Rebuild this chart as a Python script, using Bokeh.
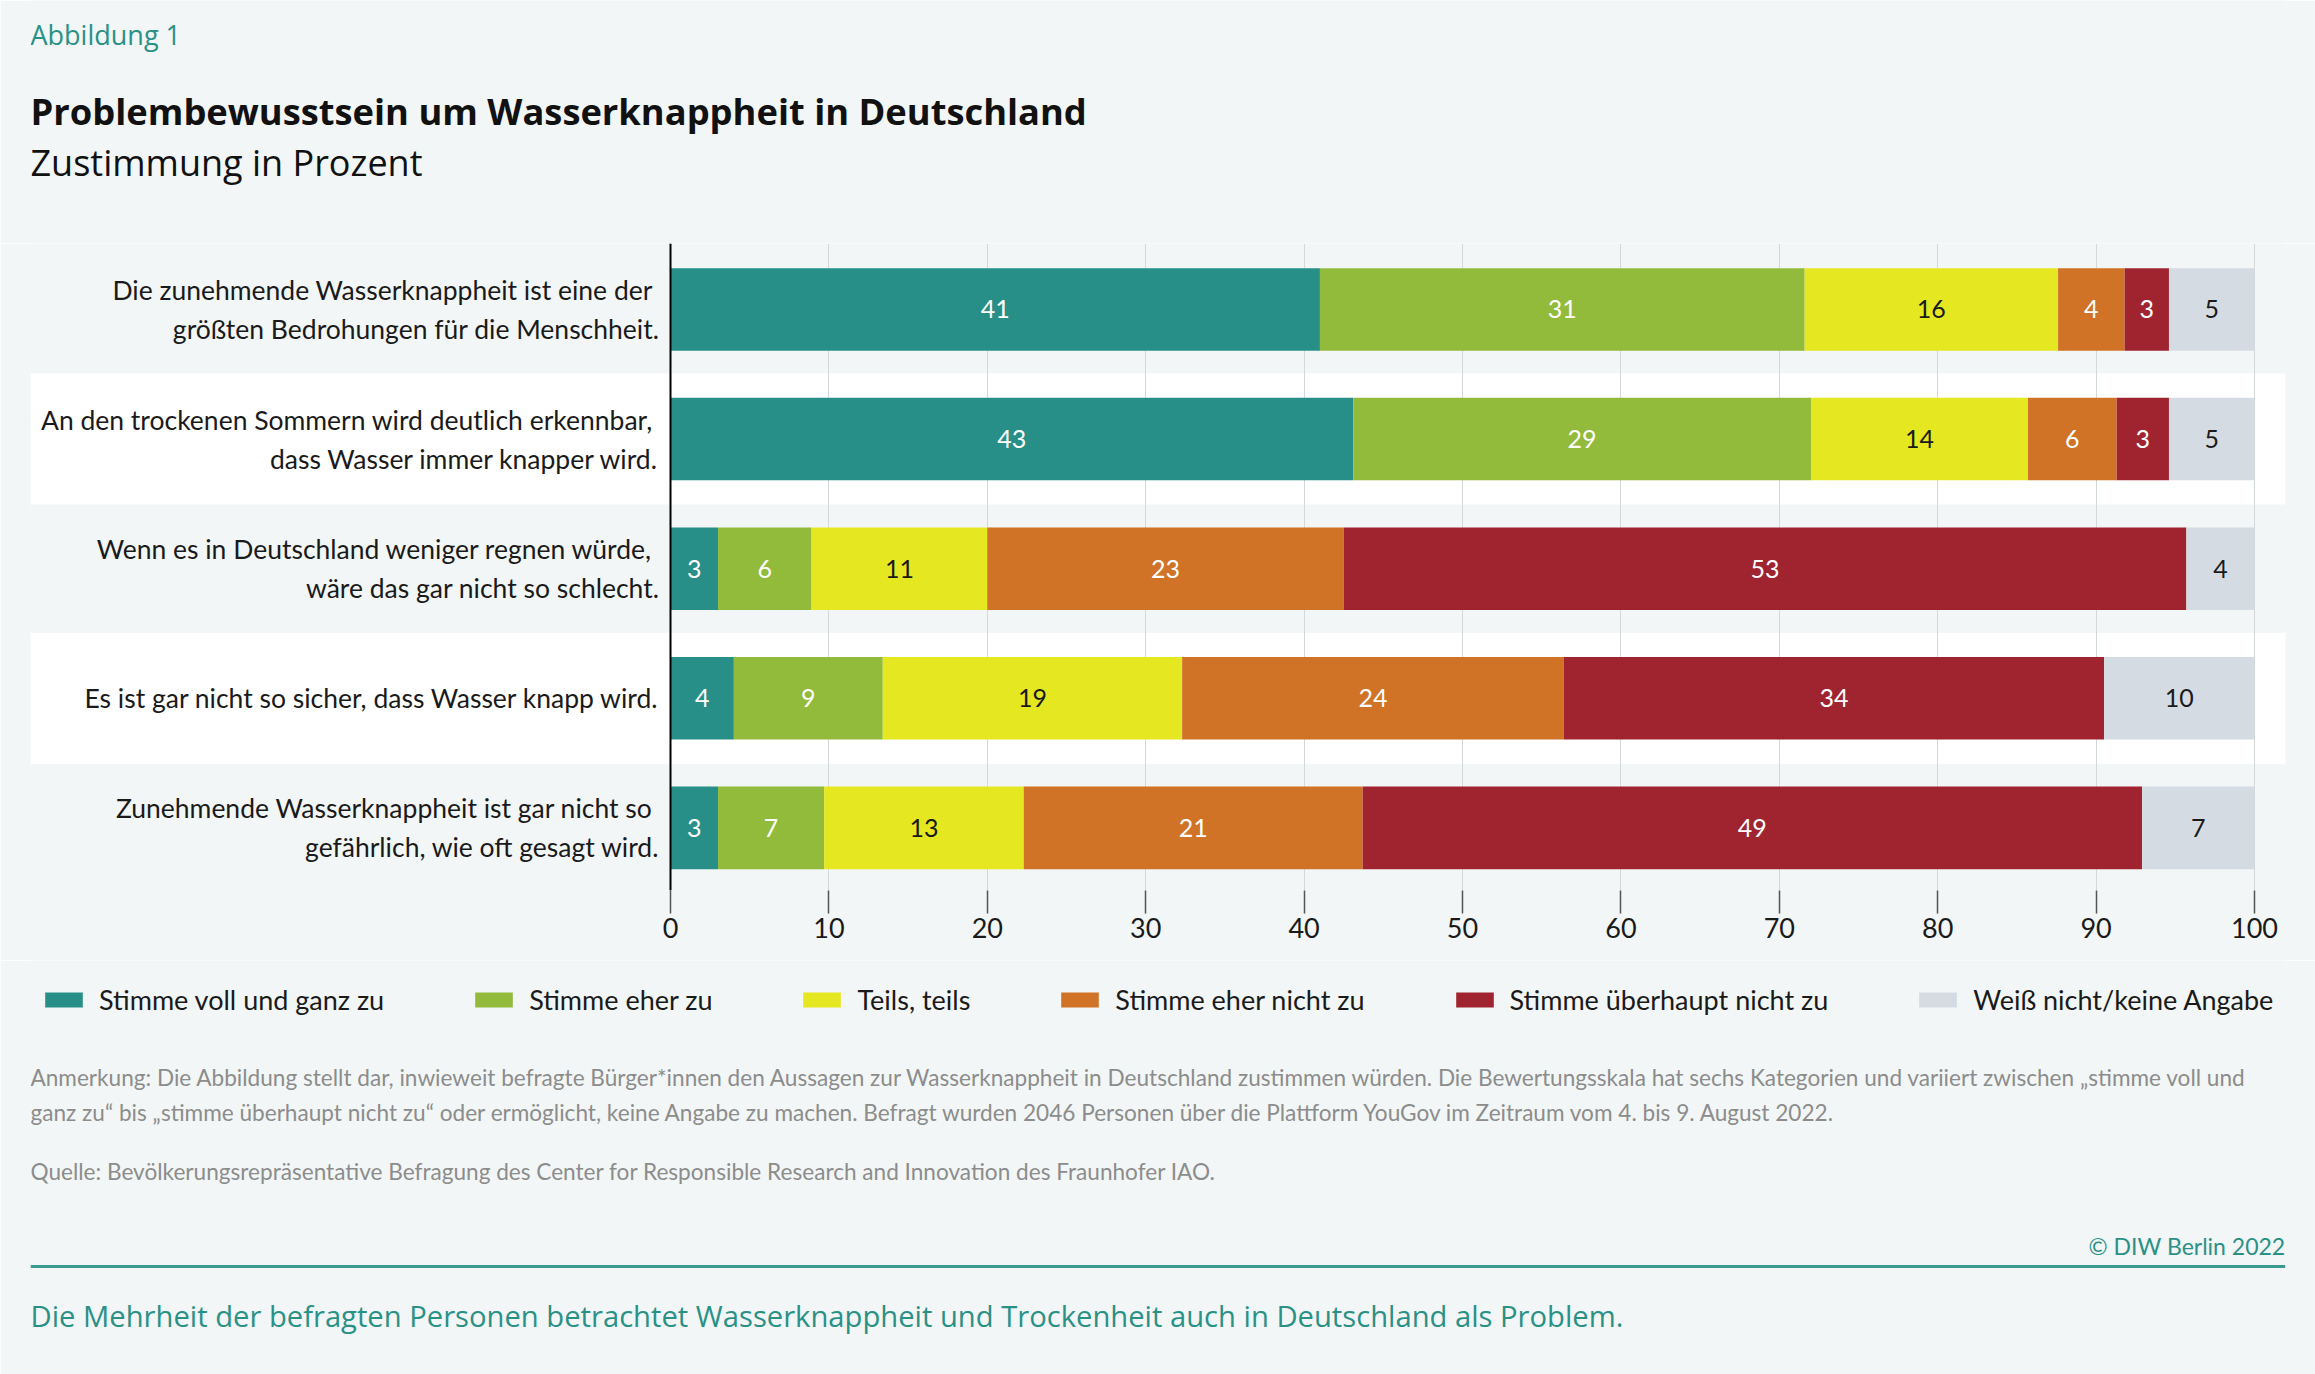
from bokeh.plotting import figure
from bokeh.layouts import column
from bokeh.models import Range1d, FixedTicker, ColumnDataSource, Span, Legend, LegendItem
from bokeh.core.properties import value
from bokeh.embed import file_html
from bokeh.resources import INLINE

# ---------------- data ----------------
statements = [
    "Die zunehmende Wasserknappheit ist eine der \ngrößten Bedrohungen für die Menschheit.",
    "An den trockenen Sommern wird deutlich erkennbar, \ndass Wasser immer knapper wird.",
    "Wenn es in Deutschland weniger regnen würde, \nwäre das gar nicht so schlecht.",
    "Es ist gar nicht so sicher, dass Wasser knapp wird.",
    "Zunehmende Wasserknappheit ist gar nicht so \ngefährlich, wie oft gesagt wird.",
]
series_names = ["Stimme voll und ganz zu", "Stimme eher zu", "Teils, teils",
                "Stimme eher nicht zu", "Stimme überhaupt nicht zu", "Weiß nicht/keine Angabe"]
voll = [41.0, 43.1, 3.0, 4.0, 3.0]
eher = [30.6, 28.9, 5.9, 9.4, 6.7]
teils = [16.0, 13.7, 11.1, 18.9, 12.6]
eher_nicht = [4.2, 5.6, 22.5, 24.1, 21.4]
ueberhaupt = [2.8, 3.3, 53.2, 34.1, 49.2]
weiss = [5.4, 5.4, 4.3, 9.5, 7.1]

lab_voll = [41, 43, 3, 4, 3]
lab_eher = [31, 29, 6, 9, 7]
lab_teils = [16, 14, 11, 19, 13]
lab_eher_nicht = [4, 6, 23, 24, 21]
lab_ueberhaupt = [3, 3, 53, 34, 49]
lab_weiss = [5, 5, 4, 10, 7]

x_ticks = [0, 10, 20, 30, 40, 50, 60, 70, 80, 90, 100]

title_kicker = "Abbildung 1"
title_main = "Problembewusstsein um Wasserknappheit in Deutschland"
title_sub = "Zustimmung in Prozent"
note_lines = [
    "Anmerkung: Die Abbildung stellt dar, inwieweit befragte Bürger*innen den Aussagen zur Wasserknappheit in Deutschland zustimmen würden. Die Bewertungsskala hat sechs Kategorien und variiert zwischen „stimme voll und",
    "ganz zu“ bis „stimme überhaupt nicht zu“ oder ermöglicht, keine Angabe zu machen. Befragt wurden 2046 Personen über die Plattform YouGov im Zeitraum vom 4. bis 9. August 2022.",
]
source_line = "Quelle: Bevölkerungsrepräsentative Befragung des Center for Responsible Research and Innovation des Fraunhofer IAO."
copyright_text = "© DIW Berlin 2022"
takeaway = "Die Mehrheit der befragten Personen betrachtet Wasserknappheit und Trockenheit auch in Deutschland als Problem."

# ---------------- styles ----------------
W = 2315
BG = "#f2f6f6"
FONT = "Lato"
FONT2 = "Open Sans"
TEAL = "#2a9187"
TEXT = "#1a1a1a"
colors = ["#288f88", "#92bb3c", "#e5e720", "#d07326", "#a02430", "#d4dbe2"]
label_colors = ["white", "white", TEXT, "white", "white", TEXT]
keys = ["voll", "eher", "teils", "eher_nicht", "ueberhaupt", "weiss"]
values_list = [voll, eher, teils, eher_nicht, ueberhaupt, weiss]
labels_list = [lab_voll, lab_eher, lab_teils, lab_eher_nicht, lab_ueberhaupt, lab_weiss]


def bare(p):
    p.background_fill_color = BG
    p.border_fill_color = BG
    p.outline_line_color = None
    p.grid.visible = False


idx = list(range(len(statements)))
data = dict(idx=idx, statement=statements)
for k, v in zip(keys, values_list):
    data[k] = v
src = ColumnDataSource(data)

# ---------------- header ----------------
head = figure(width=W, height=243, x_range=Range1d(30, 2286), y_range=Range1d(243, 0),
              x_axis_location=None, y_axis_location=None, title=None,
              min_border_left=30, min_border_right=29, min_border_top=0, min_border_bottom=0,
              output_backend="svg", toolbar_location=None)
bare(head)
head.text(x=[30], y=[34], text=[title_kicker], text_font=value(FONT2), text_font_size="27px",
          text_color=TEAL, text_baseline="middle")
head.text(x=[30], y=[110], text=[title_main], text_font=value(FONT2), text_font_size="36.3px",
          text_font_style="bold", text_color="#111111", text_baseline="middle")
head.text(x=[30], y=[162], text=[title_sub], text_font=value(FONT2), text_font_size="36px",
          text_color="#111111", text_baseline="middle")

# ---------------- chart ----------------
PX_PER_UNIT = 15.84
x_lo = -640 / PX_PER_UNIT
x_hi = (2255 - 640) / PX_PER_UNIT
chart = figure(width=W, height=717, x_range=Range1d(x_lo, x_hi),
               y_range=Range1d(4.483, -0.509), y_axis_location=None, title=None,
               min_border_left=30, min_border_right=30, min_border_top=0, min_border_bottom=70,
               output_backend="svg", toolbar_location=None)
chart.background_fill_color = BG
chart.border_fill_color = BG
chart.outline_line_color = None
chart.ygrid.visible = False

# alternating white bands
band_rows = [i for i in idx if i % 2 == 1]
bands = chart.hbar(y=band_rows, left=x_lo, right=x_hi, height=1.011, color="white", line_color=None)
bands.level = "image"

chart.hbar_stack(keys, y="idx", height=0.637, color=colors, line_color=None, source=src)

# segment value labels
lefts = [0.0] * len(idx)
for k, v, labs, lc in zip(keys, values_list, labels_list, label_colors):
    centers = [l + w / 2 for l, w in zip(lefts, v)]
    chart.text(x=centers, y=idx, text=[str(t) for t in labs], text_align="center",
               text_baseline="middle", text_font=value(FONT), text_font_size="25px", text_color=lc)
    lefts = [l + w for l, w in zip(lefts, v)]

# statement labels
chart.text(x=[0] * len(idx), y=idx, text=statements, x_offset=-11, text_align="right",
           text_baseline="middle", text_font=value(FONT), text_font_size="26.5px",
           text_color=TEXT, text_line_height=1.22)

chart.add_layout(Span(location=0, dimension="height", line_color="black", line_width=2))

ax = chart.xaxis[0]
ax.ticker = FixedTicker(ticks=x_ticks)
ax.axis_line_color = None
ax.major_tick_in = 0
ax.major_tick_out = 23
ax.major_tick_line_color = "#555555"
ax.major_tick_line_width = 1.5
ax.minor_tick_line_color = None
ax.major_label_text_font = FONT
ax.major_label_text_font_size = "27px"
ax.major_label_text_color = TEXT
ax.major_label_standoff = 4
chart.xgrid.ticker = FixedTicker(ticks=x_ticks)
chart.xgrid.grid_line_color = "#d3d8db"
chart.xgrid.grid_line_width = 1

# ---------------- footer (legend + notes) ----------------
foot = figure(width=W, height=414, x_range=Range1d(30, 2286), y_range=Range1d(1374, 960),
              x_axis_location=None, y_axis_location=None, title=None,
              min_border_left=30, min_border_right=29, min_border_top=0, min_border_bottom=0,
              output_backend="svg", toolbar_location=None)
bare(foot)
legend_renderers = foot.hbar_stack(keys, y="idx", height=0.637, color=colors, line_color=None,
                                   source=src, visible=False)
legend = Legend(items=[LegendItem(label=n, renderers=[r]) for n, r in zip(series_names, legend_renderers)],
                orientation="horizontal", location=(10, 358), glyph_width=47, glyph_height=19,
                label_standoff=12, spacing=86, padding=0, margin=0, border_line_color=None,
                background_fill_alpha=0, label_text_font=FONT, label_text_font_size="27px",
                label_text_color=TEXT)
foot.add_layout(legend, "center")

foot.text(x=[30, 30], y=[1077, 1112], text=note_lines, text_font=value(FONT), text_font_size="22.6px",
          text_color="#8c8c8c", text_baseline="middle")
foot.text(x=[30], y=[1171], text=[source_line], text_font=value(FONT), text_font_size="22.6px",
          text_color="#8c8c8c", text_baseline="middle")
foot.text(x=[2286], y=[1245], text=[copyright_text], text_font=value(FONT), text_font_size="23px",
          text_color=TEAL, text_align="right", text_baseline="middle")
foot.add_layout(Span(location=1266, dimension="width", line_color="#3a9a8f", line_width=3))
foot.text(x=[30], y=[1315], text=[takeaway], text_font=value(FONT2), text_font_size="29.2px",
          text_color=TEAL, text_baseline="middle")

layout = column(head, chart, foot, spacing=0)
open("out.html", "w").write(file_html(layout, INLINE))
